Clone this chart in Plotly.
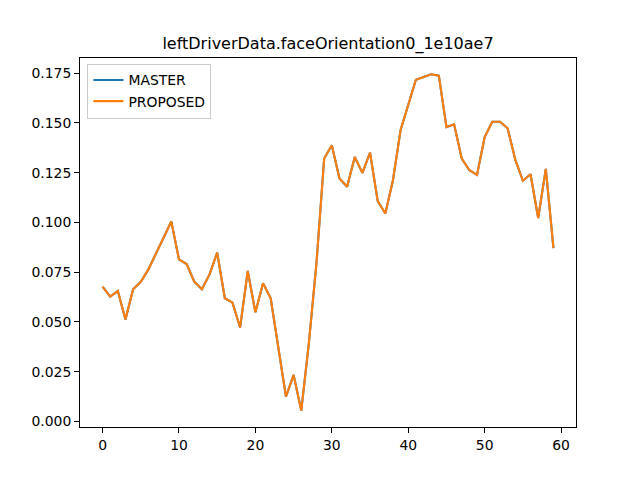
import plotly.graph_objects as go

title = "leftDriverData.faceOrientation0_1e10ae7"

# sample index
frames = list(range(60))

# values (both series overlap)
master = [0.0677, 0.0627, 0.0655, 0.0513, 0.0664, 0.0702, 0.0764, 0.0845, 0.0925, 0.1005,
          0.0814, 0.0791, 0.0702, 0.0664, 0.0739, 0.0848, 0.0619, 0.0597, 0.0473, 0.0756,
          0.0549, 0.0694, 0.0619, 0.0360, 0.0125, 0.0234, 0.0055, 0.0395, 0.0800, 0.1321,
          0.1388, 0.1221, 0.1179, 0.1329, 0.1249, 0.1351, 0.1108, 0.1045, 0.1212, 0.1465,
          0.1597, 0.1717, 0.1730, 0.1744, 0.1737, 0.1479, 0.1493, 0.1321, 0.1262, 0.1239,
          0.1429, 0.1506, 0.1506, 0.1473, 0.1316, 0.1209, 0.1242, 0.1022, 0.1269, 0.0871]
proposed = list(master)

fig = go.Figure()
fig.add_trace(go.Scatter(x=frames, y=master, mode="lines", name="MASTER",
                         line=dict(color="#1f77b4", width=2.1)))
fig.add_trace(go.Scatter(x=frames, y=proposed, mode="lines", name="PROPOSED",
                         line=dict(color="#ff7f0e", width=2.1)))

axis_style = dict(showline=True, linecolor="black", linewidth=1.1, mirror=True,
                  ticks="outside", ticklen=4.9, tickwidth=1.1, tickcolor="black",
                  showgrid=False, zeroline=False,
                  tickfont=dict(family="DejaVu Sans", size=13.9, color="black"))

# page body has an 8px margin, so the figure is shrunk and shifted to compensate
fig.update_layout(
    width=632, height=472,
    margin=dict(l=72, r=64, t=49.6, b=52.8),
    paper_bgcolor="white", plot_bgcolor="white",
    title=dict(text=title, x=0.5, xref="paper", xanchor="center",
               y=1 - 35 / 472, yanchor="middle",
               font=dict(family="DejaVu Sans", size=16, color="black")),
    xaxis=dict(range=[-2.95, 61.95], tickmode="linear", tick0=0, dtick=10, **axis_style),
    yaxis=dict(range=[-0.00277, 0.1826], tickmode="linear", tick0=0, dtick=0.025,
               tickformat=".3f", **axis_style),
    legend=dict(x=0.015, y=0.985, xanchor="left", yanchor="top",
                bgcolor="rgba(255,255,255,0.8)", bordercolor="#cccccc", borderwidth=1,
                font=dict(family="DejaVu Sans", size=13.9, color="black"),
                tracegroupgap=0),
    showlegend=True,
)

fig.write_html("out.html")
